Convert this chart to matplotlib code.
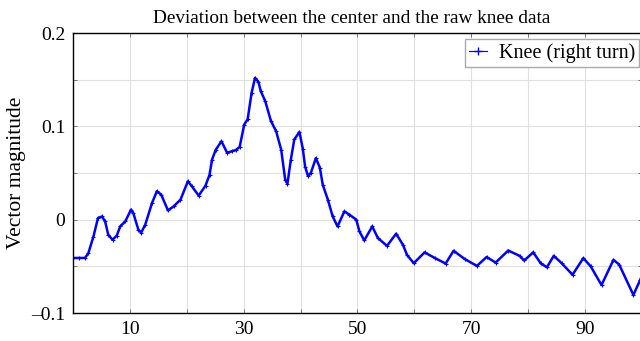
import numpy as np
import matplotlib
matplotlib.use("Agg")
import matplotlib.pyplot as plt
from matplotlib.ticker import FixedLocator
from matplotlib.lines import Line2D

# values
frame = [0.0, 1.0, 2.1, 2.7, 3.6, 4.4, 5.1, 5.65, 6.2, 6.95, 7.7, 8.3, 9.2, 10.2,
         10.6, 11.5, 12.0, 12.7, 13.9, 14.75, 15.5, 16.7, 17.7, 18.9, 20.2, 20.9,
         22.1, 23.3, 24.0, 24.45, 25.1, 26.1, 27.1, 28.0, 28.6, 29.3, 30.1, 30.7,
         31.4, 32.0, 32.6, 33.0, 33.8, 34.8, 35.7, 36.6, 37.3, 37.7, 38.3, 38.9,
         39.8, 40.4, 40.8, 41.3, 41.8, 42.7, 43.4, 43.9, 44.8, 45.65, 46.5, 47.7,
         48.6, 49.8, 50.35, 51.2, 52.6, 53.6, 55.2, 56.8, 58.0, 58.7, 59.9, 61.8,
         63.6, 65.5, 66.9, 68.9, 71.0, 72.7, 74.3, 76.5, 78.5, 79.3, 80.9, 82.2,
         83.3, 84.5, 85.9, 87.8, 89.7, 91.0, 92.9, 95.0, 96.0, 98.5, 99.7, 100.0]
knee = [-0.041, -0.041, -0.041, -0.036, -0.018, 0.0018, 0.0035, -0.0018, -0.016,
        -0.0215, -0.017, -0.0072, -0.0018, 0.0108, 0.0072, -0.0108, -0.0137, -0.0054,
        0.018, 0.0305, 0.027, 0.0100, 0.0143, 0.0215, 0.0412, 0.0358, 0.0258, 0.0366,
        0.048, 0.0645, 0.075, 0.084, 0.0717, 0.0735, 0.0745, 0.078, 0.102, 0.1075,
        0.136, 0.152, 0.1477, 0.138, 0.127, 0.1057, 0.095, 0.075, 0.043, 0.0387,
        0.0645, 0.086, 0.094, 0.076, 0.057, 0.047, 0.050, 0.066, 0.0556, 0.0376,
        0.0215, 0.0035, -0.0072, 0.0089, 0.0054, 0.0, -0.0125, -0.0222, -0.0072,
        -0.0197, -0.028, -0.015, -0.0269, -0.0376, -0.0466, -0.035, -0.041, -0.047,
        -0.0333, -0.0423, -0.0495, -0.040, -0.0459, -0.033, -0.0387, -0.0437, -0.035,
        -0.0466, -0.051, -0.0387, -0.0466, -0.059, -0.0412, -0.050, -0.070, -0.043,
        -0.048, -0.0806, -0.0645, -0.060]
xticks = [10, 30, 50, 70, 90]
xgrid = [20, 40, 60, 80]
yticks = [-0.1, 0.0, 0.1, 0.2]
ytick_labels = ["\u20130.1", "0", "0.1", "0.2"]
ygrid = [-0.05, 0.05, 0.15]

plt.rcParams["font.family"] = ["Liberation Serif", "DejaVu Serif"]

fig = plt.figure(figsize=(6.4, 3.41), dpi=100)
ax = fig.add_axes([0.114, 0.082, 0.889, 0.821])

ax.plot(frame, knee, color="#0000ff", linewidth=1.8, marker="+", markersize=2.5,
        markeredgewidth=0.8)

ax.set_xlim(0, 100)
ax.set_ylim(-0.1, 0.2)
ax.xaxis.set_major_locator(FixedLocator(xticks))
ax.xaxis.set_minor_locator(FixedLocator(xgrid))
ax.yaxis.set_major_locator(FixedLocator(yticks))
ax.yaxis.set_minor_locator(FixedLocator(ygrid))
ax.set_yticklabels(ytick_labels)
ax.tick_params(which="both", direction="in", top=True, right=True, labelsize=14,
               length=3, width=0.6, color="#666666", pad=5.5)
ax.grid(True, which="both", color="#e0e0e0", linewidth=0.8)
ax.set_axisbelow(True)
for s in ax.spines.values():
    s.set_linewidth(1.0)

ax.set_title("Deviation between the center and the raw knee data", fontsize=13.9,
             pad=7, x=0.4895)
ax.set_ylabel("Vector magnitude", fontsize=15.5, labelpad=4)

# legend: thin short line with a single marker
handle = Line2D([], [], color="#0000ff", linewidth=0.8, marker="+", markersize=6,
                markeredgewidth=1.0)
ax.legend([handle], ["Knee (right turn)"], loc="upper right", fontsize=14.5,
          numpoints=1, fancybox=False, edgecolor="#aaaaaa", framealpha=1,
          handlelength=0.9, handletextpad=0.6, borderpad=0.2, borderaxespad=0,
          bbox_to_anchor=(0.999, 1 - 39 / 341), bbox_transform=fig.transFigure)

fig.savefig("out.png", dpi=100)
